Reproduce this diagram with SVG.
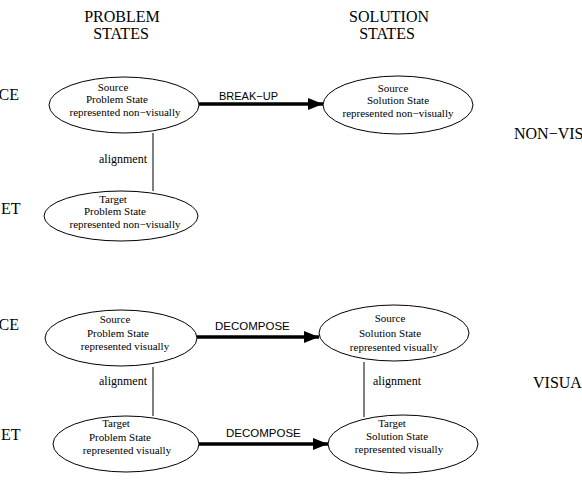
<svg xmlns="http://www.w3.org/2000/svg" width="582" height="483" viewBox="0 0 582 483">
<defs>
<style>
.hd{font-family:"Liberation Serif","Times New Roman",serif;font-size:16px;fill:#000}
.nl{font-family:"Liberation Serif","Times New Roman",serif;font-size:11px;fill:#000;text-anchor:middle}
.al{font-family:"Liberation Serif","Times New Roman",serif;font-size:12px;fill:#000}
.el{fill:#fff;stroke:#000;stroke-width:1}
.ar{font-family:"Liberation Sans",Arial,sans-serif;font-size:11px;fill:#000}
.ln{stroke:#000;stroke-width:1;fill:none}
.th{stroke:#000;stroke-width:3.5;fill:none}
</style>
<marker id="ah" markerWidth="15" markerHeight="12" refX="15" refY="6" orient="auto" markerUnits="userSpaceOnUse">
<path d="M0,0 L15,6 L0,12 Z" fill="#000"/>
</marker>
</defs>
<rect width="582" height="483" fill="#fff"/>
<g id="headers">
<text class="hd" x="122" y="22" text-anchor="middle">PROBLEM</text>
<text class="hd" x="121" y="39" text-anchor="middle">STATES</text>
<text class="hd" x="389" y="22" text-anchor="middle">SOLUTION</text>
<text class="hd" x="387" y="39" text-anchor="middle">STATES</text>
<text class="hd" x="19" y="100" text-anchor="end">CE</text>
<text class="hd" x="1" y="214">ET</text>
<text class="hd" x="19" y="330" text-anchor="end">CE</text>
<text class="hd" x="1" y="440">ET</text>
<text class="hd" x="514" y="139">NON−VIS</text>
<text class="hd" x="533" y="388">VISUA</text>
</g>
<g id="connectors">
<line class="th" x1="199" y1="104" x2="323" y2="104" marker-end="url(#ah)"/>
<text class="ar" x="219" y="100">BREAK−UP</text>
<line class="ln" x1="153" y1="133" x2="153" y2="191"/>
<text class="al" x="99" y="163">alignment</text>
<line class="th" x1="197" y1="337" x2="319" y2="337" marker-end="url(#ah)"/>
<text class="ar" x="215" y="330" style="font-size:11.5px">DECOMPOSE</text>
<line class="ln" x1="153" y1="367" x2="153" y2="416"/>
<text class="al" x="99" y="385">alignment</text>
<line class="th" x1="199" y1="444" x2="328" y2="444" marker-end="url(#ah)"/>
<text class="ar" x="226" y="437" style="font-size:11.5px">DECOMPOSE</text>
<line class="ln" x1="364" y1="362" x2="364" y2="417"/>
<text class="al" x="373" y="385">alignment</text>
</g>
<g id="src-prob-nonvis">
<ellipse class="el" cx="124" cy="105" rx="75" ry="28"/>
<text class="nl" x="113" y="91">Source</text>
<text class="nl" x="117" y="103">Problem State</text>
<text class="nl" x="125" y="116">represented non−visually</text>
</g>
<g id="tgt-prob-nonvis">
<ellipse class="el" cx="121" cy="216" rx="77" ry="25"/>
<text class="nl" x="113" y="203">Target</text>
<text class="nl" x="115" y="215">Problem State</text>
<text class="nl" x="125" y="228">represented non−visually</text>
</g>
<g id="src-sol-nonvis">
<ellipse class="el" cx="398" cy="105" rx="75" ry="29"/>
<text class="nl" x="393" y="92">Source</text>
<text class="nl" x="398" y="104">Solution State</text>
<text class="nl" x="398" y="117">represented non−visually</text>
</g>
<g id="src-prob-vis">
<ellipse class="el" cx="121" cy="338" rx="76" ry="28"/>
<text class="nl" x="115" y="323">Source</text>
<text class="nl" x="118" y="337">Problem State</text>
<text class="nl" x="125" y="350">represented visually</text>
</g>
<g id="tgt-prob-vis">
<ellipse class="el" cx="126" cy="444" rx="73" ry="28"/>
<text class="nl" x="116" y="427">Target</text>
<text class="nl" x="120" y="441">Problem State</text>
<text class="nl" x="127" y="454">represented visually</text>
</g>
<g id="src-sol-vis">
<ellipse class="el" cx="394" cy="333" rx="75" ry="28"/>
<text class="nl" x="390" y="322">Source</text>
<text class="nl" x="390" y="337">Solution State</text>
<text class="nl" x="394" y="351">represented visually</text>
</g>
<g id="tgt-sol-vis">
<ellipse class="el" cx="403" cy="444" rx="75" ry="29"/>
<text class="nl" x="392" y="427">Target</text>
<text class="nl" x="397" y="440">Solution State</text>
<text class="nl" x="399" y="453">represented visually</text>
</g>
</svg>
